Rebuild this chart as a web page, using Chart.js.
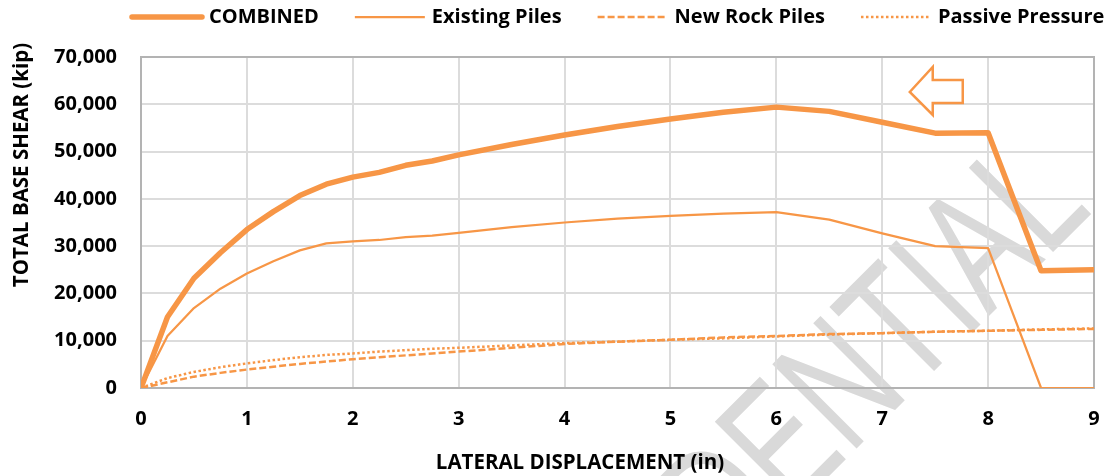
<!DOCTYPE html>
<html>
<head>
<meta charset="utf-8">
<script src="https://cdn.jsdelivr.net/npm/chart.js@4.4.1/dist/chart.umd.min.js"></script>
<style>
	body { margin: 0; background: #fff; }
	#wrap { width: 1105px; height: 476px; }
</style>
</head>
<body>
<div id="wrap"><canvas id="shear"></canvas></div>
<script>
// values
var displacement = [0, 0.25, 0.5, 0.75, 1, 1.25, 1.5, 1.75, 2, 2.25, 2.5, 2.75, 3, 3.5, 4, 4.5, 5, 5.5, 6, 6.5, 7, 7.5, 8, 8.5, 9];
var combined  = [0, 15000, 23200, 28600, 33500, 37300, 40700, 43100, 44600, 45600, 47100, 48000, 49300, 51500, 53500, 55300, 56900, 58300, 59400, 58500, 56200, 53900, 54000, 24800, 25000];
var existing  = [0, 11000, 16900, 21000, 24200, 26800, 29100, 30600, 31000, 31300, 31900, 32200, 32800, 34000, 35000, 35800, 36400, 36900, 37200, 35600, 32700, 30000, 29600, 0, 0];
var newRock   = [0, 1200, 2400, 3200, 3900, 4500, 5100, 5600, 6100, 6500, 6900, 7300, 7700, 8500, 9300, 9800, 10200, 10700, 11000, 11400, 11600, 11900, 12100, 12300, 12500];
var passive   = [0, 2100, 3400, 4400, 5200, 5900, 6500, 7000, 7300, 7700, 8000, 8300, 8500, 9000, 9500, 9800, 10200, 10500, 10900, 11300, 11600, 11900, 12100, 12400, 12600];
var seriesNames = ['COMBINED', 'Existing Piles', 'New Rock Piles', 'Passive Pressure'];
var xTicks = [0, 9, 1];        // min, max, step
var yTicks = [0, 70000, 10000];
var arrowAt = [7.26, 62600];   // tip of the arrow note (in, kip)

var orange = '#F79646';
var fontFamily = '"Open Sans", "DejaVu Sans", sans-serif';

function points(ys) {
	return displacement.map(function(x, i) { return { x: x, y: ys[i] }; });
}

var extras = {
	id: 'extras',
	beforeDraw: function(chart) {
		// watermark
		var ctx = chart.ctx;
		ctx.save();
		ctx.translate(1094, 211);
		ctx.rotate(-Math.PI / 4);
		ctx.scale(1, 1.42);
		ctx.font = '122px "Liberation Sans", sans-serif';
		ctx.fillStyle = '#d9d9d9';
		ctx.textAlign = 'right';
		ctx.textBaseline = 'alphabetic';
		ctx.fillText('CONFIDENTIAL', 0, 0);
		ctx.restore();
	},
	beforeDatasetsDraw: function(chart) {
		var a = chart.chartArea, ctx = chart.ctx;
		ctx.save();
		ctx.strokeStyle = '#b3b3b3';
		ctx.lineWidth = 2;
		ctx.strokeRect(a.left, a.top, a.right - a.left, a.bottom - a.top);
		ctx.restore();
	},
	afterDatasetsDraw: function(chart) {
		// hollow arrow note
		var ctx = chart.ctx;
		var tx = chart.scales.x.getPixelForValue(arrowAt[0]);
		var ty = chart.scales.y.getPixelForValue(arrowAt[1]);
		ctx.save();
		ctx.beginPath();
		ctx.moveTo(tx, ty);
		ctx.lineTo(tx + 23, ty - 25);
		ctx.lineTo(tx + 23, ty - 12);
		ctx.lineTo(tx + 53, ty - 12);
		ctx.lineTo(tx + 53, ty + 11);
		ctx.lineTo(tx + 23, ty + 11);
		ctx.lineTo(tx + 23, ty + 23);
		ctx.closePath();
		ctx.fillStyle = '#fff';
		ctx.fill();
		ctx.strokeStyle = orange;
		ctx.lineWidth = 2.5;
		ctx.stroke();
		ctx.restore();
	},
	afterDraw: function(chart) {
		var ctx = chart.ctx;
		ctx.save();
		ctx.fillStyle = '#000';

		// legend
		ctx.font = 'bold 20px ' + fontFamily;
		ctx.textBaseline = 'middle';
		ctx.textAlign = 'left';
		var x = 132, y = 17;
		chart.data.datasets.forEach(function(ds) {
			ctx.save();
			ctx.strokeStyle = ds.borderColor;
			ctx.lineWidth = ds.borderWidth;
			ctx.lineCap = ds.borderCapStyle || 'butt';
			ctx.setLineDash(ds.borderDash || []);
			ctx.beginPath();
			ctx.moveTo(x, y);
			ctx.lineTo(x + 70, y);
			ctx.stroke();
			ctx.restore();
			x += 77;
			ctx.fillText(ds.label, x, y);
			x += ctx.measureText(ds.label).width + 36;
		});

		// axis titles
		ctx.font = 'bold 20.5px ' + fontFamily;
		ctx.textAlign = 'center';
		ctx.fillText('LATERAL DISPLACEMENT (in)', 580, 463);
		ctx.translate(22, 165);
		ctx.rotate(-Math.PI / 2);
		ctx.fillText('TOTAL BASE SHEAR (kip)', 0, 0);
		ctx.restore();
	}
};

var shear = document.getElementById('shear').getContext('2d');
var shearChart = new Chart(shear, {
	type: 'line',
	data: {
		datasets: [{
			label: seriesNames[0],
			data: points(combined),
			borderColor: orange,
			borderWidth: 5.5,
			borderCapStyle: 'round',
			borderJoinStyle: 'round'
		}, {
			label: seriesNames[1],
			data: points(existing),
			borderColor: orange,
			borderWidth: 2.25,
			borderJoinStyle: 'round'
		}, {
			label: seriesNames[2],
			data: points(newRock),
			borderColor: orange,
			borderWidth: 2.5,
			borderDash: [7, 3]
		}, {
			label: seriesNames[3],
			data: points(passive),
			borderColor: orange,
			borderWidth: 2.5,
			borderDash: [2.5, 2.5]
		}]
	},
	options: {
		responsive: true,
		maintainAspectRatio: false,
		animation: false,
		layout: { padding: { top: 57, right: 11, left: 0, bottom: 0 } },
		elements: {
			point: { radius: 0 },
			line: { tension: 0, fill: false }
		},
		plugins: {
			legend: { display: false },
			tooltip: { enabled: false }
		},
		scales: {
			x: {
				type: 'linear',
				min: xTicks[0],
				max: xTicks[1],
				afterFit: function(scale) {
					scale.height = 88;
					scale.paddingLeft = 0;
					scale.paddingRight = 0;
				},
				border: { display: false },
				grid: { color: '#dcdcdc', lineWidth: 2, drawTicks: false },
				ticks: {
					stepSize: xTicks[2],
					padding: 19,
					color: '#000',
					font: { family: fontFamily, size: 20, weight: 'bold' }
				}
			},
			y: {
				min: yTicks[0],
				max: yTicks[1],
				afterFit: function(scale) {
					scale.width = 141;
					scale.paddingTop = 0;
					scale.paddingBottom = 0;
				},
				border: { display: false },
				grid: { color: '#dcdcdc', lineWidth: 2, drawTicks: false },
				ticks: {
					stepSize: yTicks[2],
					padding: 24,
					color: '#000',
					font: { family: fontFamily, size: 20, weight: 'bold' },
					callback: function(v) { return v.toLocaleString('en-US'); }
				}
			}
		}
	},
	plugins: [extras]
});
</script>
</body>
</html>
